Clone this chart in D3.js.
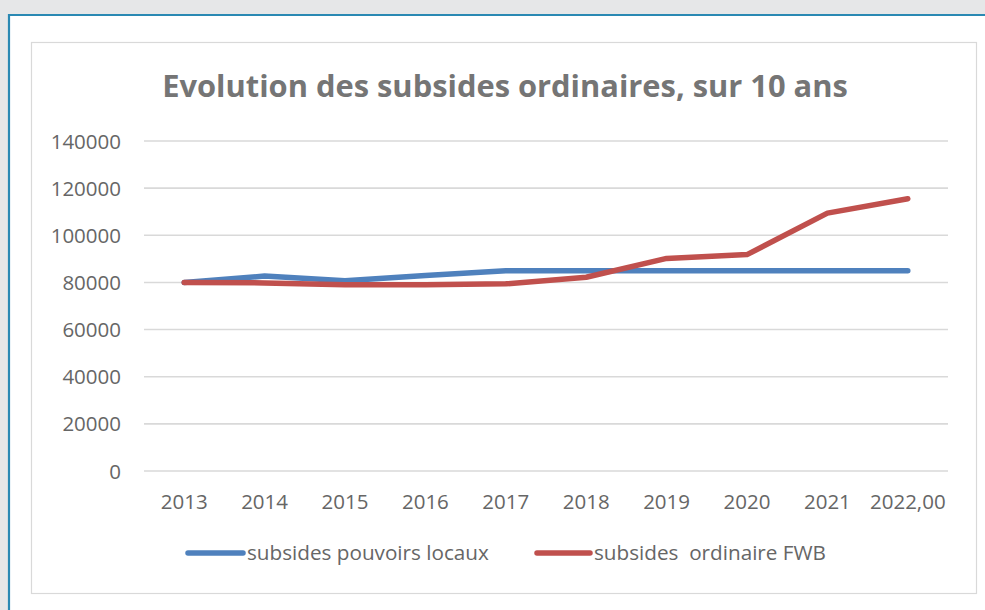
<!DOCTYPE html>
<html>
<head>
<meta charset="utf-8">
<script src="https://cdn.jsdelivr.net/npm/d3@7"></script>
<style>
  html, body { margin: 0; padding: 0; background: #e6e7e8; }
  svg { display: block; }
  text { font-family: "Open Sans", "Noto Sans", sans-serif; }
</style>
</head>
<body>
<svg id="chart" width="985" height="610"></svg>
<script>
// Years on the horizontal axis (the last one keeps its spreadsheet formatting)
const years = ["2013", "2014", "2015", "2016", "2017", "2018", "2019", "2020", "2021", "2022,00"];

// Subsidies per year, in euros
const pouvoirsLocaux = [80000, 82700, 80700, 82900, 85000, 85000, 85000, 85000, 85000, 85000];
const ordinaireFWB   = [80000, 79800, 79000, 79000, 79400, 82200, 90200, 91800, 109400, 115500];

const yTicks = [0, 20000, 40000, 60000, 80000, 100000, 120000, 140000];

const seriesNames = ["subsides pouvoirs locaux", "subsides  ordinaire FWB"];
const seriesColors = ["#4f81bd", "#c0504d"];
const titleText = "Evolution des subsides ordinaires, sur 10 ans";

const svg = d3.select("#chart");

// Page frame: white panel with a teal edge
svg.append("rect").attr("x", 9).attr("y", 15).attr("width", 985).attr("height", 610)
  .attr("fill", "#ffffff");
svg.append("path")
  .attr("d", "M9,625 V15 H990")
  .attr("fill", "none").attr("stroke", "#2a89b3").attr("stroke-width", 2.2);

// Chart area border
svg.append("rect").attr("x", 31.5).attr("y", 42.5).attr("width", 945).attr("height", 551)
  .attr("fill", "#ffffff").attr("stroke", "#d9d9d9").attr("stroke-width", 1.2);

const x = d3.scalePoint().domain(years).range([144, 948]).padding(0.5);
const y = d3.scaleLinear().domain([0, 140000]).range([471, 141]);

// Horizontal gridlines
svg.append("g").selectAll("line").data(yTicks).join("line")
  .attr("x1", 144).attr("x2", 948)
  .attr("y1", d => y(d)).attr("y2", d => y(d))
  .attr("stroke", "#d9d9d9").attr("stroke-width", 1.6);

// Y axis labels
svg.append("g").selectAll("text").data(yTicks).join("text")
  .attr("x", 121).attr("y", d => y(d) + 7.5)
  .attr("text-anchor", "end")
  .attr("fill", "#666666").attr("font-size", 20.5)
  .text(d => d);

// X axis labels
svg.append("g").selectAll("text").data(years).join("text")
  .attr("x", d => x(d)).attr("y", 509)
  .attr("text-anchor", "middle")
  .attr("fill", "#666666").attr("font-size", 20.5)
  .text(d => d);

// Lines
const line = d3.line().x((d, i) => x(years[i])).y(d => y(d));
[pouvoirsLocaux, ordinaireFWB].forEach((vals, k) => {
  svg.append("path").datum(vals)
    .attr("d", line)
    .attr("fill", "none")
    .attr("stroke", seriesColors[k])
    .attr("stroke-width", 5.5)
    .attr("stroke-linecap", "round")
    .attr("stroke-linejoin", "round");
});

// Title
const title = svg.append("text")
  .attr("x", 505).attr("y", 97)
  .attr("text-anchor", "middle")
  .attr("fill", "#757575").attr("font-weight", "bold").attr("font-size", 28)
  .text(titleText);
const tw = title.node().getComputedTextLength();
title.attr("font-size", 28 * 686 / tw);

// Legend
const legendItems = [
  { x0: 188, x1: 243, tx: 247 },
  { x0: 537, x1: 590, tx: 594 }
];
legendItems.forEach((it, k) => {
  svg.append("line")
    .attr("x1", it.x0).attr("x2", it.x1).attr("y1", 553).attr("y2", 553)
    .attr("stroke", seriesColors[k]).attr("stroke-width", 5.5)
    .attr("stroke-linecap", "round");
  svg.append("text")
    .attr("x", it.tx).attr("y", 560)
    .attr("fill", "#666666").attr("font-size", 20.7)
    .style("white-space", "pre")
    .text(seriesNames[k]);
});
</script>
</body>
</html>
